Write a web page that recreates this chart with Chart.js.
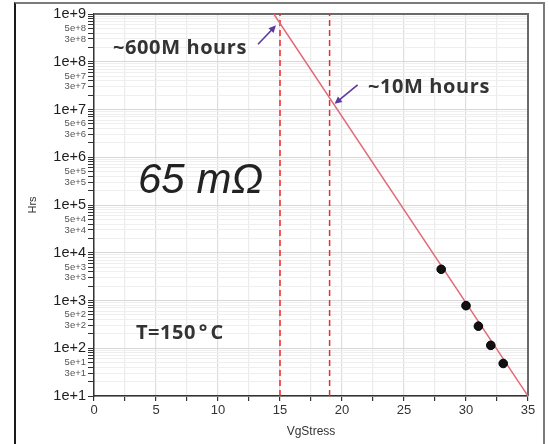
<!DOCTYPE html>
<html><head><meta charset="utf-8">
<script src="https://cdn.jsdelivr.net/npm/chart.js@4.4.1/dist/chart.umd.min.js"></script>
<style>
html,body{margin:0;padding:0;background:#fff;overflow:hidden;}
#wrap{position:relative;width:549px;height:444px;}
#frame{position:absolute;left:14px;top:2px;width:527px;height:480px;border:2px solid #7a7a7a;border-left-color:#1a1a1a;}
canvas{position:absolute;left:0;top:0;}
</style></head><body>
<div id="wrap"><div id="frame"></div><canvas id="c" width="549" height="444"></canvas></div>
<script>
// ---- data ----
const measuredVg = [28, 30, 31, 32, 33];
const measuredHrs = [4500, 780, 290, 115, 48];
const fitVg = [14.5, 35];
const fitHrs = [1e9, 10];
const markerVg = [15, 19];
const markerLabels = ['~600M hours', '~10M hours'];
const xTickValues = [0, 2.5, 5, 7.5, 10, 12.5, 15, 17.5, 20, 22.5, 25, 27.5, 30, 32.5, 35];
const xLabelStep = 5;
const yMin = 10, yMax = 1e9;
const yDecades = [1, 2, 3, 4, 5, 6, 7, 8];
const yMantissas = [1, 2, 3, 4, 5, 6, 7, 8, 9];
const yLabelMantissas = [1, 3, 5];
const noteResistance = '65 mΩ';
const noteTempParts = ['T=150', '°', 'C'];

const yTickValues = [];
yDecades.forEach(e => yMantissas.forEach(m => yTickValues.push(m * Math.pow(10, e))));
yTickValues.push(yMax);

function isMajor(v) { const l = Math.log10(v); return Math.abs(l - Math.round(l)) < 1e-9; }
function mantissa(v) { const e = Math.floor(Math.log10(v) + 1e-9); return Math.round(v / Math.pow(10, e)); }
function fitAt(v) {
  const t = (v - fitVg[0]) / (fitVg[1] - fitVg[0]);
  return Math.pow(10, Math.log10(fitHrs[0]) + t * (Math.log10(fitHrs[1]) - Math.log10(fitHrs[0])));
}

function arrow(ctx, x1, y1, x2, y2) {
  ctx.save();
  ctx.strokeStyle = '#5b3a9e'; ctx.fillStyle = '#5b3a9e'; ctx.lineWidth = 1.6;
  const a = Math.atan2(y2 - y1, x2 - x1);
  ctx.beginPath(); ctx.moveTo(x1, y1); ctx.lineTo(x2 - 5 * Math.cos(a), y2 - 5 * Math.sin(a)); ctx.stroke();
  ctx.beginPath();
  ctx.moveTo(x2, y2);
  ctx.lineTo(x2 - 8 * Math.cos(a - 0.45), y2 - 8 * Math.sin(a - 0.45));
  ctx.lineTo(x2 - 8 * Math.cos(a + 0.45), y2 - 8 * Math.sin(a + 0.45));
  ctx.closePath(); ctx.fill();
  ctx.restore();
}

function spacedText(ctx, text, left, cy, spacing) {
  ctx.letterSpacing = spacing + 'px';
  ctx.textAlign = 'left'; ctx.textBaseline = 'middle';
  ctx.fillText(text, left, cy);
  const w = ctx.measureText(text).width;
  ctx.letterSpacing = '0px';
  return w;
}

const frameAndNotes = {
  id: 'frameAndNotes',
  beforeDatasetsDraw(chart) {
    const { ctx, chartArea: ca } = chart;
    ctx.save();
    ctx.strokeStyle = '#6a6a6a'; ctx.lineWidth = 2;
    ctx.beginPath(); ctx.moveTo(ca.left, ca.top); ctx.lineTo(ca.right, ca.top); ctx.lineTo(ca.right, ca.bottom); ctx.stroke();
    ctx.restore();
  },
  afterDatasetsDraw(chart) {
    const { ctx, scales: { x, y } } = chart;
    ctx.save();
    ctx.fillStyle = '#333';
    ctx.font = 'bold 20px "Open Sans"';
    spacedText(ctx, markerLabels[0], 113, 48, 0.6);
    spacedText(ctx, markerLabels[1], 368, 87, 0.6);
    ctx.font = 'bold 20px "Open Sans"';
    let cx = 136;
    cx += spacedText(ctx, noteTempParts[0], cx, 333, 0.5) + 3;
    cx += spacedText(ctx, noteTempParts[1], cx, 333, 0) + 3;
    spacedText(ctx, noteTempParts[2], cx, 333, 0);
    ctx.fillStyle = '#222';
    ctx.font = 'italic 42px "Liberation Sans"';
    ctx.textAlign = 'left'; ctx.textBaseline = 'alphabetic';
    ctx.fillText(noteResistance, 138, 193);
    ctx.restore();
    const p1x = x.getPixelForValue(markerVg[0]), p1y = y.getPixelForValue(fitAt(markerVg[0]));
    const p2x = x.getPixelForValue(markerVg[1]), p2y = y.getPixelForValue(fitAt(markerVg[1]));
    arrow(ctx, p1x - 22, p1y + 21, p1x - 4, p1y + 2);
    arrow(ctx, p2x + 28, p2y - 13, p2x + 5, p2y + 6);
  }
};

new Chart(document.getElementById('c'), {
  type: 'scatter',
  data: {
    datasets: [
      { data: fitVg.map((v, i) => ({ x: v, y: fitHrs[i] })), showLine: true, borderColor: '#e06a78', borderWidth: 1.5, pointRadius: 0, order: 2 },
      { data: [{ x: markerVg[0], y: yMin }, { x: markerVg[0], y: yMax }], showLine: true, borderColor: '#f02828', borderWidth: 1.5, borderDash: [6, 4], pointRadius: 0, order: 3 },
      { data: [{ x: markerVg[1], y: yMin }, { x: markerVg[1], y: yMax }], showLine: true, borderColor: '#f02828', borderWidth: 1.5, borderDash: [6, 4], pointRadius: 0, order: 3 },
      { data: measuredVg.map((v, i) => ({ x: v, y: measuredHrs[i] })), backgroundColor: '#111', borderColor: '#000', borderWidth: 1, pointRadius: 4.3, order: 1 }
    ]
  },
  options: {
    responsive: false, animation: false, devicePixelRatio: 1,
    layout: { padding: { left: 0, top: 14, right: 21, bottom: 0 } },
    plugins: { legend: { display: false }, tooltip: { enabled: false } },
    scales: {
      x: {
        type: 'linear', min: 0, max: 35,
        afterBuildTicks: s => { s.ticks = xTickValues.map(v => ({ value: v })); },
        afterFit: s => { s.height = 48; },
        ticks: {
          autoSkip: false, maxRotation: 0, padding: 2, color: '#333',
          font: { family: '"Liberation Sans", Arial', size: 13 },
          callback: v => (v % xLabelStep === 0 ? String(v) : '')
        },
        grid: { color: c => (c.tick && c.tick.value % xLabelStep === 0 ? '#dedede' : '#ececec'), lineWidth: 1.2, tickLength: 5, tickColor: '#333', tickWidth: 1.2 },
        border: { display: true, color: '#333', width: 1.5 },
        title: { display: true, text: 'VgStress', color: '#333', font: { family: '"Liberation Sans", Arial', size: 12 }, padding: { top: 0, bottom: 5 } }
      },
      y: {
        type: 'logarithmic', min: yMin, max: yMax,
        afterBuildTicks: s => { s.ticks = yTickValues.map(v => ({ value: v, major: isMajor(v) })); },
        afterFit: s => { s.width = 94; },
        ticks: {
          autoSkip: false, padding: 2,
          color: c => (isMajor(c.tick.value) ? '#1e1e1e' : '#555'),
          font: c => (isMajor(c.tick.value) ? { family: '"Liberation Sans", Arial', size: 14.5 } : { family: '"Liberation Sans", Arial', size: 9.5 }),
          callback: v => {
            const m = mantissa(v);
            if (!yLabelMantissas.includes(m)) return '';
            const e = Math.round(Math.log10(v / m));
            return m + 'e+' + e;
          }
        },
        grid: { color: c => (c.tick && isMajor(c.tick.value) ? '#d8d8d8' : '#efefef'), lineWidth: 1, tickLength: 6, tickColor: '#333', tickWidth: 1 },
        border: { display: true, color: '#333', width: 1.5 },
        title: { display: true, text: 'Hrs', color: '#333', font: { family: '"Liberation Sans", Arial', size: 11 }, padding: { top: 26, bottom: 0 } }
      }
    }
  },
  plugins: [frameAndNotes]
});
</script>
</body></html>
